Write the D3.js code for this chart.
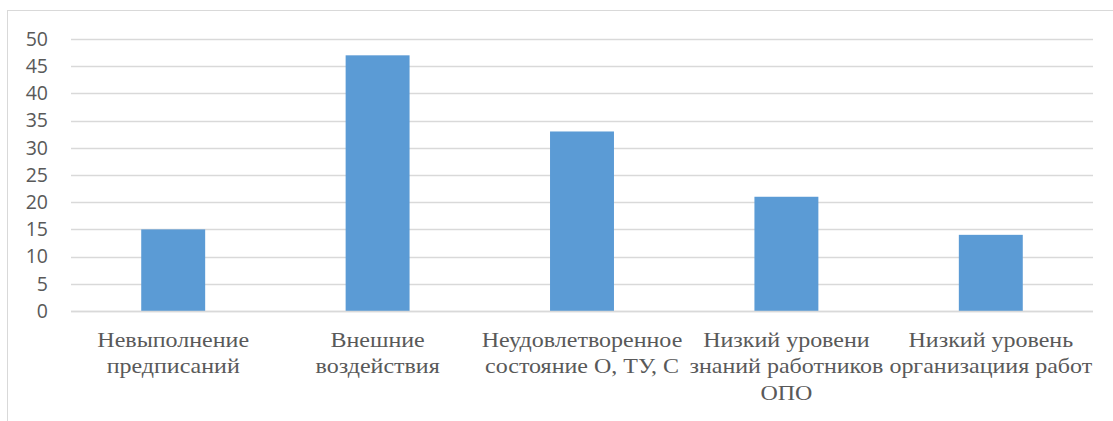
<!DOCTYPE html>
<html>
<head>
<meta charset="utf-8">
<script src="https://cdn.jsdelivr.net/npm/d3@7"></script>
<style>
  html, body { margin: 0; padding: 0; background: #fff; }
  svg { display: block; }
</style>
</head>
<body>
<svg id="chart" width="1113" height="421"></svg>
<script>
// Categories (each entry is one label, split into its lines)
const categories = [
  ["Невыполнение", "предписаний"],
  ["Внешние", "воздействия"],
  ["Неудовлетворенное", "состояние О, ТУ, С"],
  ["Низкий уровени", "знаний работников", "ОПО"],
  ["Низкий уровень", "организациия работ"]
];
const values = [15, 47, 33, 21, 14];
const yTicks = [0, 5, 10, 15, 20, 25, 30, 35, 40, 45, 50];

const svg = d3.select("#chart");

// chart area frame
svg.append("rect")
  .attr("x", 7.5).attr("y", 10.5)
  .attr("width", 1120).attr("height", 430)
  .attr("fill", "#fff").attr("stroke", "#d9d9d9").attr("stroke-width", 1);

const x = d3.scaleBand()
  .domain(d3.range(categories.length))
  .range([71, 1093])
  .paddingInner(0.6872)
  .paddingOuter(0.3436);

const y = d3.scaleLinear().domain([0, 50]).range([311, 39]);

// gridlines
svg.append("g")
  .selectAll("line")
  .data(yTicks)
  .join("line")
  .attr("x1", 71).attr("x2", 1093)
  .attr("y1", d => Math.round(y(d)) + 0.5)
  .attr("y2", d => Math.round(y(d)) + 0.5)
  .attr("stroke", "#d9d9d9").attr("stroke-width", 1.3);

// y-axis labels
const yAxis = d3.axisLeft(y).tickValues(yTicks).tickSize(0).tickPadding(0);
const gy = svg.append("g").attr("transform", "translate(48,0)").call(yAxis);
gy.select(".domain").remove();
gy.selectAll("text")
  .attr("fill", "#595959")
  .attr("font-family", "'Open Sans', 'Liberation Sans', sans-serif")
  .attr("font-size", 19.5);

// bars
svg.append("g")
  .selectAll("rect")
  .data(values)
  .join("rect")
  .attr("x", (d, i) => x(i))
  .attr("y", d => y(d))
  .attr("width", x.bandwidth())
  .attr("height", d => y(0) - y(d))
  .attr("fill", "#5b9bd5");

// baseline redrawn over bars
svg.append("line")
  .attr("x1", 71).attr("x2", 1093)
  .attr("y1", Math.round(y(0)) + 0.5).attr("y2", Math.round(y(0)) + 0.5)
  .attr("stroke", "#d9d9d9").attr("stroke-width", 1.3);

// category labels (serif, slightly widened)
const lbl = svg.append("g")
  .selectAll("text")
  .data(categories)
  .join("text")
  .attr("transform", (d, i) => `translate(${x(i) + x.bandwidth() / 2},0) scale(1.2,1)`)
  .attr("text-anchor", "middle")
  .attr("fill", "#595959")
  .attr("font-family", "'Liberation Serif', 'Times New Roman', serif")
  .attr("font-size", 20);
lbl.each(function(lines) {
  d3.select(this).selectAll("tspan")
    .data(lines)
    .join("tspan")
    .attr("x", 0)
    .attr("y", (d, j) => 347 + j * 26.5)
    .text(d => d);
});
</script>
</body>
</html>
